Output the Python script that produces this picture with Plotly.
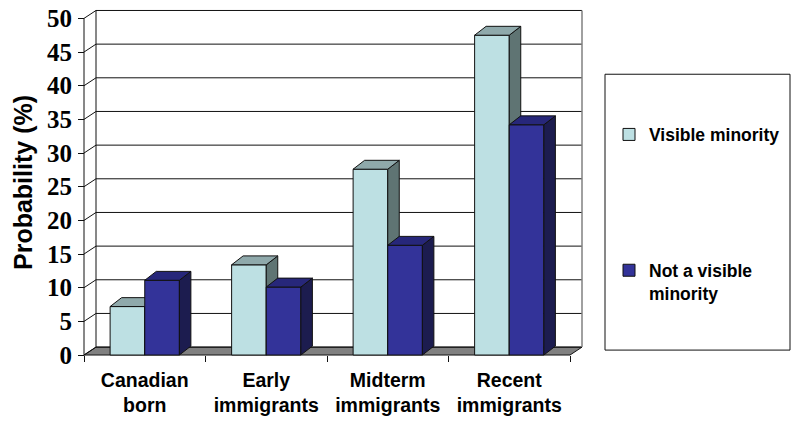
import plotly.graph_objects as go

# ---- data -------------------------------------------------------------
categories = ["Canadian<br>born", "Early<br>immigrants",
              "Midterm<br>immigrants", "Recent<br>immigrants"]
visible_minority = [7.2, 13.4, 27.6, 47.5]
not_visible_minority = [11.1, 10.1, 16.3, 34.2]
series_names = ["Visible minority", "Not a visible<br>minority"]
y_ticks = list(range(0, 55, 5))

# ---- geometry ---------------------------------------------------------
W, H = 794, 421
ML, MR, MT, MB = 82, 208, 5, 63          # margins (px)
PX_CAT = 121.5                           # px per category
PX_UNIT = 6.81                           # px per percentage point
X_LO = -0.5 - 2 / PX_CAT
X_HI = 3.5 + 16 / PX_CAT
Y_LO = -2 / PX_UNIT
Y_HI = 351 / PX_UNIT

# oblique depth of the walls and of the columns, in data units
WALL_DX, WALL_DY = 12 / PX_CAT, 8 / PX_UNIT
BAR_DX, BAR_DY = 11.5 / PX_CAT, 9 / PX_UNIT
BAR_W = 0.285

FONT_SANS = "Liberation Sans"
FONT_SERIF = "Liberation Serif"

LIGHT = dict(front="#bde0e3", top="#8fa9ab", side="#5f7473")
DARK = dict(front="#333399", top="#27277a", side="#1c1c4f")
EDGE = "#111111"

xs = list(range(len(categories)))


def faces(values, offset):
    """Top and side polygons of each column, as None-separated paths."""
    tx, ty, sx, sy = [], [], [], []
    for x, v in zip(xs, values):
        x0 = x + offset
        x1 = x0 + BAR_W
        tx += [x0, x1, x1 + BAR_DX, x0 + BAR_DX, x0, None]
        ty += [v, v, v + BAR_DY, v + BAR_DY, v, None]
        sx += [x1, x1, x1 + BAR_DX, x1 + BAR_DX, x1, None]
        sy += [0, v, v + BAR_DY, BAR_DY, 0, None]
    return (tx, ty), (sx, sy)


def column_traces(values, offset, colors, name, legend, xa, ya):
    (tx, ty), (sx, sy) = faces(values, offset)
    bar = go.Bar(x=xs, y=values, width=BAR_W, offset=offset, name=name,
                 marker=dict(color=colors["front"], line=dict(color=EDGE, width=1)),
                 legend=legend, xaxis=xa, yaxis=ya, hoverinfo="y")
    common = dict(mode="lines", fill="toself", showlegend=False,
                  hoverinfo="skip", xaxis=xa, yaxis=ya,
                  line=dict(color=EDGE, width=1))
    side = go.Scatter(x=sx, y=sy, fillcolor=colors["side"], **common)
    top = go.Scatter(x=tx, y=ty, fillcolor=colors["top"], **common)
    return [bar, side, top]


fig = go.Figure()
# first series on the base subplot, second one on an overlay so that it
# hides the parts of the first series standing behind it
for t in column_traces(visible_minority, -BAR_W, LIGHT, series_names[0],
                       "legend", "x", "y"):
    fig.add_trace(t)
for t in column_traces(not_visible_minority, 0.0, DARK, series_names[1],
                       "legend2", "x2", "y2"):
    fig.add_trace(t)

# ---- walls, floor and gridlines ---------------------------------------
shapes = []
x_front_l, x_front_r = -0.5, 3.5
# floor
shapes.append(dict(type="path", xref="x", yref="y", layer="below",
                   path=(f"M{x_front_l},0 L{x_front_r},0 "
                         f"L{x_front_r + WALL_DX},{WALL_DY} "
                         f"L{x_front_l + WALL_DX},{WALL_DY} Z"),
                   fillcolor="#808080", line=dict(color=EDGE, width=1)))
for v in y_ticks:
    # back-wall gridline
    shapes.append(dict(type="line", xref="x", yref="y", layer="below",
                       x0=x_front_l + WALL_DX, x1=x_front_r + WALL_DX,
                       y0=v + WALL_DY, y1=v + WALL_DY,
                       line=dict(color=EDGE, width=1)))
    # side-wall gridline
    shapes.append(dict(type="line", xref="x", yref="y", layer="below",
                       x0=x_front_l, x1=x_front_l + WALL_DX,
                       y0=v, y1=v + WALL_DY,
                       line=dict(color=EDGE, width=1)))
# wall edges and value axis
shapes.append(dict(type="line", xref="x", yref="y", layer="below",
                   x0=x_front_l + WALL_DX, x1=x_front_l + WALL_DX,
                   y0=WALL_DY, y1=y_ticks[-1] + WALL_DY,
                   line=dict(color=EDGE, width=1)))
shapes.append(dict(type="line", xref="x", yref="y", layer="below",
                   x0=x_front_r + WALL_DX, x1=x_front_r + WALL_DX,
                   y0=WALL_DY, y1=y_ticks[-1] + WALL_DY,
                   line=dict(color="#808080", width=1.5)))
shapes.append(dict(type="line", xref="x", yref="y", layer="below",
                   x0=x_front_l, x1=x_front_l, y0=0, y1=y_ticks[-1],
                   line=dict(color=EDGE, width=1)))
# legend frame
plot_w = W - ML - MR
plot_h = H - MT - MB


def px(xp):
    return (xp - ML) / plot_w


def py(yp):
    return (H - MB - yp) / plot_h


shapes.append(dict(type="rect", xref="paper", yref="paper",
                   x0=px(605), x1=px(790), y0=py(351), y1=py(72),
                   line=dict(color=EDGE, width=1), fillcolor="rgba(0,0,0,0)"))

axis_x = dict(range=[X_LO, X_HI], showgrid=False, zeroline=False,
              showline=False, fixedrange=True)
axis_y = dict(range=[Y_LO, Y_HI], showgrid=False, zeroline=False,
              showline=False, fixedrange=True)

legend_common = dict(bgcolor="rgba(0,0,0,0)", borderwidth=0,
                     xanchor="left", valign="top",
                     font=dict(family=FONT_SANS, size=17.5, color="black",
                               weight="bold"))

fig.update_layout(
    width=W, height=H,
    margin=dict(l=ML, r=MR, t=MT, b=MB, pad=0),
    paper_bgcolor="white", plot_bgcolor="white",
    showlegend=True,
    shapes=shapes,
    xaxis=dict(**axis_x, anchor="free", position=2 / plot_h,
               tickmode="array", tickvals=xs, ticktext=categories,
               ticks="", ticklabelstandoff=11,
               tickfont=dict(family=FONT_SANS, size=19.5, color="black",
                             weight="bold"),
               minor=dict(tickmode="array",
                          tickvals=[i - 0.5 for i in range(len(categories) + 1)],
                          ticks="outside", ticklen=6, tickwidth=1,
                          tickcolor=EDGE)),
    yaxis=dict(**axis_y, anchor="free", position=2 / plot_w,
               tickmode="array", tickvals=y_ticks,
               ticks="outside", ticklen=6, tickwidth=1, tickcolor=EDGE,
               ticklabelstandoff=1,
               tickfont=dict(family=FONT_SERIF, size=25, color="black",
                             weight="bold"),
               title=dict(text="Probability (%)", standoff=6,
                          font=dict(family=FONT_SANS, size=25, color="black",
                                    weight="bold"))),
    xaxis2=dict(**axis_x, overlaying="x", anchor="y2", visible=False),
    yaxis2=dict(**axis_y, overlaying="y", anchor="x2", visible=False),
    legend=dict(**legend_common, x=px(609), y=py(133), yanchor="middle"),
    legend2=dict(**legend_common, x=px(609), y=py(282), yanchor="middle"),
)

fig.write_html("out.html")
